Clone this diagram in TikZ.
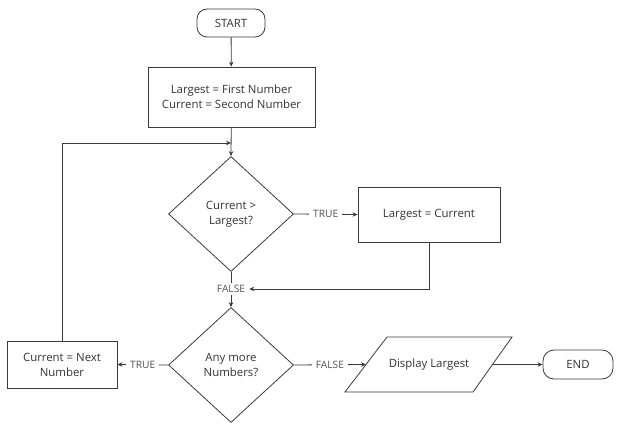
\documentclass[tikz,border=0pt]{standalone}
\usepackage{fontspec}
\setmainfont{Open Sans}
\usetikzlibrary{shapes.geometric,arrows.meta}
\definecolor{ln}{HTML}{3A3A3A}
\definecolor{tx}{HTML}{333333}
\begin{document}
\begin{tikzpicture}[x=1pt,y=-1pt,
  every node/.style={text=tx,font=\fontsize{11.4}{15}\selectfont},
  term/.style={draw=ln,line width=0.8pt,rounded corners=10pt,minimum width=68pt,minimum height=28pt,inner sep=0pt},
  proc/.style={draw=ln,line width=0.8pt,inner sep=0pt,align=center},
  dec/.style={draw=ln,line width=0.8pt,diamond,aspect=1,minimum width=125pt,minimum height=115pt,inner sep=0pt,align=center},
  lbl/.style={fill=white,inner xsep=4pt,inner ysep=2pt,font=\fontsize{10.2}{12}\selectfont,text=tx!85},
  conn/.style={draw=ln,line width=0.8pt},
  arr/.style={conn,-{Stealth[length=5pt,width=4.5pt]}}]
\useasboundingbox (0,0) rectangle (618,427);
\node[term] (start) at (231,23) {START};
\node[proc,minimum width=167pt,minimum height=60pt] (init) at (231.5,97) {Largest = First Number\\Current = Second Number};
\node[dec] (d1) at (231,214) {Current >\\Largest?};
\node[proc,minimum width=142pt,minimum height=55pt] (upd) at (429,214.5) {Largest = Current};
\node[lbl] (f1) at (231,289) {FALSE};
\node[dec] (d2) at (231,365) {Any more\\Numbers?};
\node[proc,minimum width=110pt,minimum height=47pt] (nxt) at (62,364.5) {Current = Next\\Number};
\draw[conn] (387,337) -- (512,337) -- (473,392) -- (345,392) -- cycle;
\node (disp) at (429,364.5) {Display Largest};
\coordinate (dispL) at (366,364.5);
\coordinate (dispR) at (492.5,364.5);
\node[term,minimum width=70pt,minimum height=29pt,rounded corners=11pt] (endn) at (578,364.5) {END};
\coordinate (j) at (231,143);

\draw[arr] (start) -- (init);
\draw[arr] (init) -- (d1.north);
\draw[arr] (d1.east) -- node[lbl] {TRUE} (upd.west);
\draw[conn] (d1.south) -- (f1.north);
\draw[arr] (upd.south) |- (f1.east);
\draw[arr] (f1.south) -- (d2.north);
\draw[arr] (d2.west) -- node[lbl] {TRUE} (nxt.east);
\draw[arr] (nxt.north) |- (j);
\draw[arr] (d2.east) -- node[lbl] {FALSE} (dispL);
\draw[arr] (dispR) -- (endn.west);
\end{tikzpicture}
\end{document}
